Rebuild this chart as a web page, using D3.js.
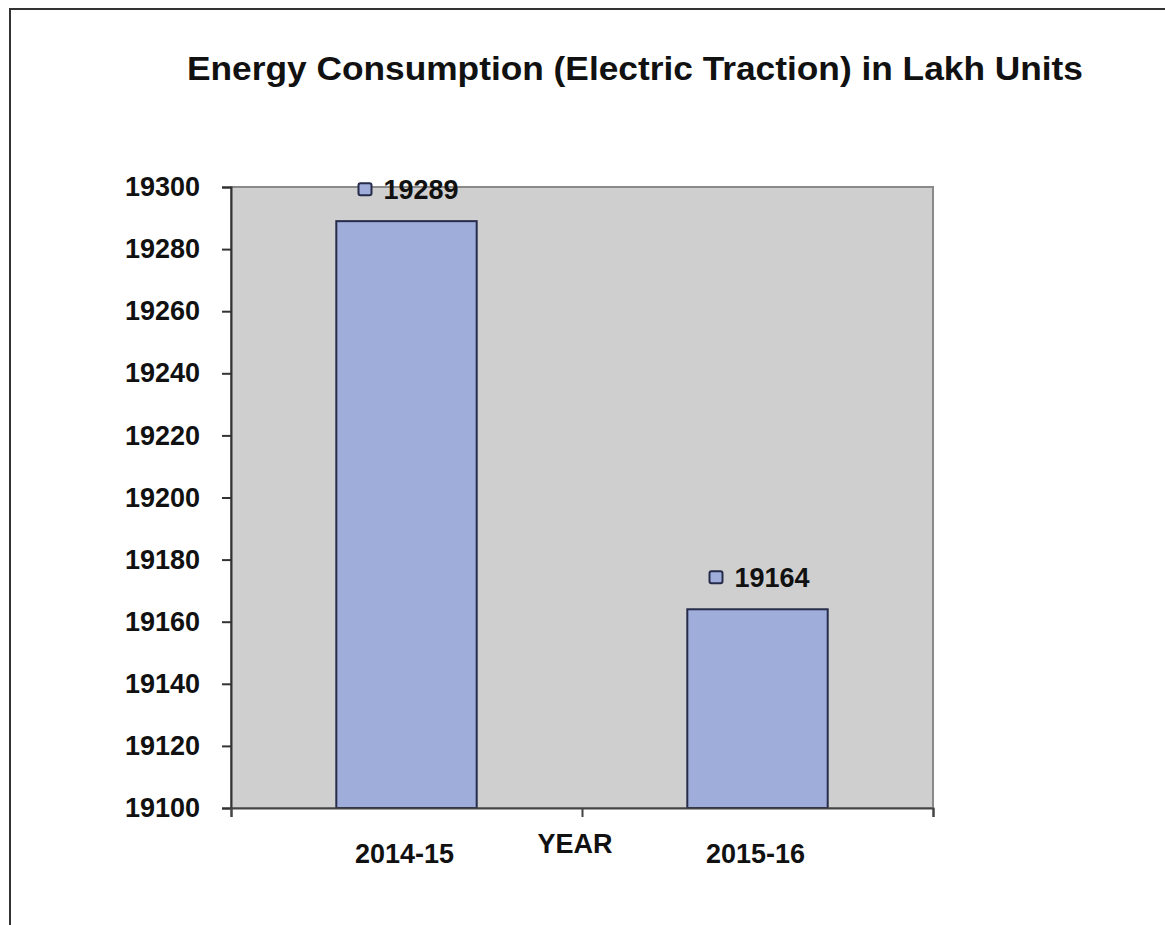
<!DOCTYPE html>
<html>
<head>
<meta charset="utf-8">
<script src="https://cdn.jsdelivr.net/npm/d3@7"></script>
<style>
  html, body { margin: 0; padding: 0; background: #ffffff; }
  svg { display: block; }
  text { font-family: "Liberation Sans", Arial, sans-serif; font-weight: bold; fill: #111; }
</style>
</head>
<body>
<div id="chart"></div>
<script>
const categories = ["2014-15", "2015-16"];
const values = [19289, 19164];
const yTicks = [19100, 19120, 19140, 19160, 19180, 19200, 19220, 19240, 19260, 19280, 19300];
const titleText = "Energy Consumption  (Electric Traction)  in Lakh Units";
const xAxisTitle = "YEAR";

const W = 1165, H = 925;
const plot = { left: 231, top: 187, right: 933, bottom: 808 };

const svg = d3.select("#chart").append("svg").attr("width", W).attr("height", H);

// Outer chart border (extends beyond the right and bottom edges)
svg.append("rect").attr("x", 10).attr("y", 9).attr("width", 1300).attr("height", 1100)
  .attr("fill", "#fff").attr("stroke", "#333").attr("stroke-width", 2);

// Title
svg.append("text").attr("x", 187).attr("y", 80)
  .attr("font-size", 33).attr("textLength", 896).attr("lengthAdjust", "spacingAndGlyphs")
  .text(titleText);

const x = d3.scaleBand().domain(categories).range([plot.left, plot.right]).paddingInner(0.6).paddingOuter(0.3);
const y = d3.scaleLinear().domain([19100, 19300]).range([plot.bottom, plot.top]);

// Plot background
svg.append("rect").attr("x", plot.left).attr("y", plot.top)
  .attr("width", plot.right - plot.left).attr("height", plot.bottom - plot.top)
  .attr("fill", "#cfcfcf").attr("stroke", "#8a8a8a").attr("stroke-width", 2);

// Bars
svg.selectAll("rect.bar").data(values).join("rect").attr("class", "bar")
  .attr("x", (d, i) => x(categories[i]))
  .attr("y", d => y(d))
  .attr("width", x.bandwidth())
  .attr("height", d => y(19100) - y(d))
  .attr("fill", "#9eadd9").attr("stroke", "#262c4a").attr("stroke-width", 2);

// Y axis
const yAxis = d3.axisLeft(y).tickValues(yTicks).tickSize(9).tickPadding(22).tickFormat(d3.format("d"));
const gy = svg.append("g").attr("transform", `translate(${plot.left},0)`).call(yAxis);
gy.select(".domain").attr("stroke", "#333").attr("stroke-width", 2);
gy.selectAll(".tick line").attr("stroke", "#333").attr("stroke-width", 2);
gy.selectAll(".tick text").attr("font-size", 27).attr("fill", "#111")
  .style("font-family", "'Liberation Sans', Arial, sans-serif").style("font-weight", "bold");

// X axis: ticks between categories
const xEdges = d3.scaleLinear().domain([0, categories.length]).range([plot.left, plot.right]);
const gx = svg.append("g").attr("transform", `translate(0,${plot.bottom})`)
  .call(d3.axisBottom(xEdges).tickValues(d3.range(categories.length + 1)).tickSize(9).tickFormat(""));
gx.select(".domain").attr("stroke", "#444").attr("stroke-width", 2);
gx.selectAll(".tick line").attr("stroke", "#444").attr("stroke-width", 2);

// Category labels
svg.selectAll("text.cat").data(categories).join("text").attr("class", "cat")
  .attr("x", d => x(d) + x.bandwidth() / 2 - 2)
  .attr("y", 863).attr("text-anchor", "middle").attr("font-size", 27)
  .text(d => d);

// Axis title
svg.append("text").attr("x", 575).attr("y", 853).attr("text-anchor", "middle")
  .attr("font-size", 27).text(xAxisTitle);

// Data labels with legend key
const lbl = svg.selectAll("g.lbl").data(values).join("g").attr("class", "lbl")
  .attr("transform", (d, i) => `translate(${x(categories[i]) + x.bandwidth() / 2},${y(d) - 32})`);
lbl.append("rect").attr("x", -48).attr("y", -6).attr("width", 13).attr("height", 12).attr("rx", 2)
  .attr("fill", "#9eadd9").attr("stroke", "#262c4a").attr("stroke-width", 2);
lbl.append("text").attr("x", -23).attr("y", 10).attr("font-size", 27).text(d => d);
</script>
</body>
</html>
